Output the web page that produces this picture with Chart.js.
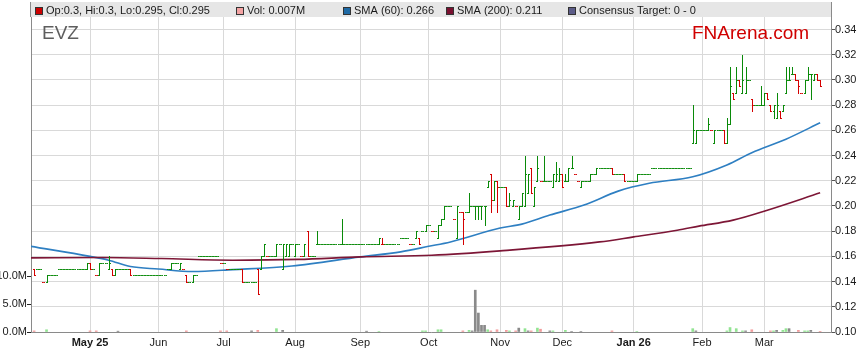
<!DOCTYPE html>
<html>
<head>
<meta charset="utf-8">
<title>EVZ</title>
<script src="https://cdn.jsdelivr.net/npm/chart.js@4.4.1/dist/chart.umd.min.js"></script>
<style>
  html, body { margin: 0; padding: 0; background: #fff; }
  canvas { display: block; }
</style>
</head>
<body>
<canvas id="evzChart" width="859" height="363"></canvas>
<script>
// One slot per weekday, slot 0 = Mon 7 Apr 2025
const opens = [
  0.15, 0.15, 0.15, 0.14, 0.14, 0.145, 0.145, 0.145, 0.15, 0.15,
  0.15, 0.15, 0.15, 0.15, 0.15, 0.15, 0.15, 0.15, 0.155, 0.15,
  0.145, 0.145, 0.155, 0.155, 0.15, 0.15, 0.145, 0.15, 0.15, 0.15,
  0.15, 0.15, 0.145, 0.145, 0.145, 0.145, 0.145, 0.145, 0.145, 0.145,
  0.145, 0.145, 0.145, 0.15, 0.15, 0.155, 0.155, 0.15, 0.15, 0.145,
  0.14, 0.14, 0.145, 0.16, 0.16, 0.16, 0.16, 0.16, 0.16, 0.16,
  0.155, 0.155, 0.15, 0.15, 0.15, 0.15, 0.15, 0.15, 0.14, 0.14,
  0.14, 0.14, 0.15, 0.15, 0.16, 0.16, 0.16, 0.16, 0.16, 0.17,
  0.15, 0.16, 0.16, 0.17, 0.16, 0.17, 0.16, 0.16, 0.18, 0.16,
  0.16, 0.17, 0.17, 0.17, 0.17, 0.17, 0.17, 0.17, 0.17, 0.17,
  0.17, 0.17, 0.17, 0.17, 0.17, 0.17, 0.17, 0.17, 0.17, 0.17,
  0.17, 0.17, 0.17, 0.17, 0.17, 0.17, 0.17, 0.17, 0.175, 0.175,
  0.175, 0.17, 0.17, 0.175, 0.175, 0.18, 0.18, 0.185, 0.18, 0.18,
  0.175, 0.185, 0.19, 0.20, 0.20, 0.19, 0.175, 0.195, 0.195, 0.195,
  0.195, 0.20, 0.20, 0.20, 0.20, 0.20, 0.215, 0.225, 0.205, 0.22,
  0.215, 0.215, 0.215, 0.20, 0.20, 0.20, 0.19, 0.20, 0.20, 0.21,
  0.23, 0.20, 0.22, 0.22, 0.22, 0.22, 0.22, 0.215, 0.22, 0.22,
  0.225, 0.22, 0.22, 0.23, 0.225, 0.22, 0.215, 0.22, 0.22, 0.22,
  0.225, 0.225, 0.23, 0.23, 0.23, 0.23, 0.23, 0.225, 0.225, 0.225,
  0.225, 0.22, 0.22, 0.22, 0.22, 0.225, 0.225, 0.225, 0.225, 0.23,
  0.23, 0.23, 0.23, 0.23, 0.23, 0.23, 0.23, 0.23, 0.23, 0.23,
  0.23, 0.23, 0.25, 0.25, 0.26, 0.26, 0.26, 0.26, 0.26, 0.25,
  0.26, 0.26, 0.26, 0.25, 0.265, 0.29, 0.29, 0.30, 0.29, 0.29,
  0.30, 0.285, 0.28, 0.28, 0.28, 0.28, 0.29, 0.28, 0.275, 0.27,
  0.275, 0.275, 0.29, 0.30, 0.305, 0.305, 0.30, 0.29, 0.29, 0.30,
  0.305, 0.30, 0.305, 0.30
];
const highs = [
  0.15, 0.15, 0.15, 0.14, 0.145, 0.145, 0.145, 0.145, 0.15, 0.15,
  0.15, 0.15, 0.15, 0.15, 0.15, 0.15, 0.15, 0.155, 0.155, 0.15,
  0.145, 0.155, 0.155, 0.155, 0.16, 0.15, 0.15, 0.15, 0.15, 0.15,
  0.15, 0.15, 0.145, 0.145, 0.145, 0.145, 0.145, 0.145, 0.145, 0.145,
  0.145, 0.145, 0.145, 0.15, 0.155, 0.155, 0.155, 0.155, 0.15, 0.145,
  0.14, 0.145, 0.145, 0.16, 0.16, 0.16, 0.16, 0.16, 0.16, 0.16,
  0.155, 0.155, 0.15, 0.15, 0.15, 0.15, 0.15, 0.15, 0.14, 0.14,
  0.14, 0.14, 0.15, 0.16, 0.17, 0.16, 0.16, 0.16, 0.17, 0.17,
  0.17, 0.17, 0.17, 0.17, 0.17, 0.17, 0.16, 0.17, 0.18, 0.16,
  0.16, 0.18, 0.17, 0.17, 0.17, 0.17, 0.17, 0.17, 0.17, 0.19,
  0.17, 0.17, 0.17, 0.17, 0.17, 0.17, 0.17, 0.17, 0.17, 0.17,
  0.17, 0.175, 0.175, 0.17, 0.17, 0.17, 0.17, 0.17, 0.175, 0.175,
  0.175, 0.17, 0.17, 0.18, 0.175, 0.18, 0.185, 0.185, 0.18, 0.18,
  0.185, 0.19, 0.20, 0.20, 0.20, 0.19, 0.20, 0.195, 0.195, 0.195,
  0.21, 0.20, 0.20, 0.20, 0.20, 0.20, 0.22, 0.225, 0.22, 0.22,
  0.215, 0.215, 0.215, 0.21, 0.205, 0.20, 0.20, 0.21, 0.24, 0.225,
  0.23, 0.215, 0.24, 0.22, 0.24, 0.22, 0.22, 0.225, 0.235, 0.23,
  0.225, 0.225, 0.23, 0.24, 0.225, 0.22, 0.22, 0.22, 0.22, 0.225,
  0.225, 0.23, 0.23, 0.23, 0.23, 0.23, 0.23, 0.225, 0.225, 0.225,
  0.225, 0.22, 0.22, 0.22, 0.225, 0.225, 0.225, 0.225, 0.225, 0.23,
  0.23, 0.23, 0.23, 0.23, 0.23, 0.23, 0.23, 0.23, 0.23, 0.23,
  0.23, 0.23, 0.28, 0.26, 0.26, 0.26, 0.26, 0.27, 0.26, 0.26,
  0.26, 0.26, 0.26, 0.27, 0.31, 0.29, 0.31, 0.30, 0.32, 0.31,
  0.30, 0.285, 0.28, 0.28, 0.295, 0.29, 0.29, 0.28, 0.28, 0.29,
  0.275, 0.28, 0.31, 0.31, 0.31, 0.305, 0.30, 0.29, 0.30, 0.31,
  0.305, 0.305, 0.305, 0.30
];
const lows = [
  0.145, 0.15, 0.15, 0.14, 0.14, 0.145, 0.145, 0.145, 0.15, 0.15,
  0.15, 0.15, 0.15, 0.15, 0.15, 0.15, 0.15, 0.15, 0.15, 0.15,
  0.145, 0.145, 0.155, 0.155, 0.15, 0.145, 0.145, 0.15, 0.15, 0.15,
  0.15, 0.145, 0.145, 0.145, 0.145, 0.145, 0.145, 0.145, 0.145, 0.145,
  0.145, 0.145, 0.145, 0.15, 0.15, 0.155, 0.155, 0.15, 0.15, 0.14,
  0.14, 0.14, 0.145, 0.16, 0.16, 0.16, 0.16, 0.16, 0.16, 0.16,
  0.155, 0.155, 0.15, 0.15, 0.15, 0.15, 0.15, 0.14, 0.14, 0.14,
  0.14, 0.14, 0.13, 0.15, 0.16, 0.16, 0.16, 0.16, 0.16, 0.17,
  0.15, 0.16, 0.16, 0.17, 0.16, 0.17, 0.16, 0.16, 0.16, 0.16,
  0.16, 0.17, 0.17, 0.17, 0.17, 0.17, 0.17, 0.17, 0.17, 0.17,
  0.17, 0.17, 0.17, 0.17, 0.17, 0.17, 0.17, 0.17, 0.17, 0.17,
  0.17, 0.17, 0.17, 0.17, 0.17, 0.17, 0.17, 0.17, 0.175, 0.175,
  0.175, 0.17, 0.17, 0.175, 0.17, 0.18, 0.18, 0.185, 0.18, 0.18,
  0.175, 0.185, 0.19, 0.20, 0.20, 0.19, 0.175, 0.195, 0.17, 0.195,
  0.195, 0.20, 0.19, 0.19, 0.19, 0.185, 0.215, 0.195, 0.205, 0.195,
  0.215, 0.215, 0.20, 0.20, 0.20, 0.20, 0.19, 0.20, 0.20, 0.21,
  0.21, 0.20, 0.22, 0.22, 0.22, 0.22, 0.22, 0.215, 0.22, 0.22,
  0.215, 0.22, 0.22, 0.23, 0.225, 0.22, 0.215, 0.22, 0.22, 0.22,
  0.225, 0.225, 0.23, 0.23, 0.23, 0.23, 0.225, 0.225, 0.225, 0.225,
  0.22, 0.22, 0.22, 0.22, 0.22, 0.225, 0.225, 0.225, 0.225, 0.23,
  0.23, 0.23, 0.23, 0.23, 0.23, 0.23, 0.23, 0.23, 0.23, 0.23,
  0.23, 0.23, 0.25, 0.25, 0.26, 0.26, 0.26, 0.26, 0.26, 0.25,
  0.26, 0.26, 0.25, 0.25, 0.265, 0.285, 0.29, 0.295, 0.29, 0.29,
  0.30, 0.275, 0.28, 0.28, 0.28, 0.28, 0.285, 0.275, 0.27, 0.27,
  0.27, 0.275, 0.29, 0.30, 0.305, 0.30, 0.29, 0.29, 0.29, 0.30,
  0.285, 0.30, 0.30, 0.295
];
const closes = [
  0.145, 0.15, 0.15, 0.14, 0.145, 0.145, 0.145, 0.145, 0.15, 0.15,
  0.15, 0.15, 0.15, 0.15, 0.15, 0.15, 0.15, 0.155, 0.15, 0.15,
  0.145, 0.155, 0.155, 0.155, 0.155, 0.145, 0.15, 0.15, 0.15, 0.15,
  0.15, 0.145, 0.145, 0.145, 0.145, 0.145, 0.145, 0.145, 0.145, 0.145,
  0.145, 0.145, 0.145, 0.15, 0.155, 0.155, 0.155, 0.155, 0.15, 0.14,
  0.14, 0.145, 0.145, 0.16, 0.16, 0.16, 0.16, 0.16, 0.16, 0.16,
  0.155, 0.155, 0.15, 0.15, 0.15, 0.15, 0.15, 0.14, 0.14, 0.14,
  0.14, 0.14, 0.13, 0.16, 0.17, 0.16, 0.16, 0.16, 0.17, 0.17,
  0.17, 0.17, 0.17, 0.17, 0.17, 0.17, 0.16, 0.17, 0.16, 0.16,
  0.16, 0.17, 0.17, 0.17, 0.17, 0.17, 0.17, 0.17, 0.17, 0.17,
  0.17, 0.17, 0.17, 0.17, 0.17, 0.17, 0.17, 0.17, 0.17, 0.17,
  0.17, 0.175, 0.17, 0.17, 0.17, 0.17, 0.17, 0.17, 0.175, 0.175,
  0.175, 0.17, 0.17, 0.18, 0.17, 0.18, 0.185, 0.185, 0.18, 0.18,
  0.185, 0.19, 0.20, 0.20, 0.20, 0.19, 0.20, 0.195, 0.19, 0.195,
  0.20, 0.20, 0.20, 0.20, 0.20, 0.20, 0.22, 0.205, 0.22, 0.215,
  0.215, 0.215, 0.20, 0.205, 0.205, 0.20, 0.20, 0.21, 0.225, 0.225,
  0.21, 0.215, 0.23, 0.22, 0.22, 0.22, 0.22, 0.225, 0.225, 0.225,
  0.215, 0.22, 0.23, 0.23, 0.225, 0.22, 0.22, 0.22, 0.22, 0.225,
  0.225, 0.23, 0.23, 0.23, 0.23, 0.23, 0.225, 0.225, 0.225, 0.225,
  0.22, 0.22, 0.22, 0.22, 0.225, 0.225, 0.225, 0.225, 0.225, 0.23,
  0.23, 0.23, 0.23, 0.23, 0.23, 0.23, 0.23, 0.23, 0.23, 0.23,
  0.23, 0.23, 0.26, 0.26, 0.26, 0.26, 0.26, 0.265, 0.26, 0.26,
  0.26, 0.26, 0.25, 0.265, 0.295, 0.285, 0.30, 0.295, 0.30, 0.30,
  0.30, 0.28, 0.28, 0.28, 0.28, 0.29, 0.285, 0.275, 0.28, 0.28,
  0.27, 0.28, 0.30, 0.30, 0.305, 0.30, 0.295, 0.29, 0.30, 0.305,
  0.305, 0.305, 0.30, 0.295
];

// volume (millions) only on the days where a bar shows
const volumeDays = [0, 4, 18, 20, 27, 49, 60, 62, 70, 72, 78, 80, 107, 111, 125, 126, 130, 131,
  138, 140, 141, 142, 143, 144, 145, 146, 147, 149, 152, 153, 155, 156, 158, 159, 160, 162, 163,
  166, 167, 171, 173, 176, 186, 194, 212, 213, 223, 224, 226, 228, 229, 231, 237, 238, 239, 241,
  242, 243, 246, 248, 249, 250, 253];
const volumeM = [0.2, 0.4, 0.2, 0.2, 0.15, 0.2, 0.2, 0.2, 0.2, 0.3, 0.6, 0.3, 0.15, 0.1, 0.2, 0.2, 0.4, 0.4,
  0.2, 0.3, 0.2, 7.5, 3.4, 1.2, 1.2, 0.4, 0.2, 0.4, 0.3, 0.2, 0.2, 0.7, 0.6, 0.2, 0.2, 0.7, 0.5,
  0.2, 0.2, 0.3, 0.1, 0.1, 0.2, 0.1, 0.6, 0.2, 0.2, 0.8, 0.6, 0.2, 0.2, 0.4, 0.2, 0.2, 0.3, 0.3,
  0.6, 0.6, 0.3, 0.2, 0.2, 0.3, 0.007];

const sma60Days = [-1, 18, 24, 31, 40, 51, 64, 83, 105, 118, 127, 134, 150, 157, 166, 177, 188, 198, 212, 223, 231, 242, 253];
const sma60 = [0.168, 0.160, 0.157, 0.152, 0.150, 0.148, 0.1495, 0.1524, 0.1596, 0.1636, 0.168, 0.1715,
  0.1825, 0.1856, 0.1928, 0.2007, 0.2118, 0.218, 0.2232, 0.2326, 0.2423, 0.253, 0.266];
const sma200Days = [-1, 22, 41, 64, 85, 105, 128, 150, 182, 193, 207, 214, 225, 236, 253];
const sma200 = [0.1588, 0.1591, 0.1583, 0.157, 0.1576, 0.1596, 0.1609, 0.1644, 0.1715, 0.1755,
  0.1808, 0.184, 0.1888, 0.1967, 0.2105];

const monthTicks = [18, 40, 61, 84, 105, 127, 150, 170, 193, 215, 235];
const monthLabels = ['May 25', 'Jun', 'Jul', 'Aug', 'Sep', 'Oct', 'Nov', 'Dec', 'Jan 26', 'Feb', 'Mar'];
const priceTicks = [0.10, 0.12, 0.14, 0.16, 0.18, 0.20, 0.22, 0.24, 0.26, 0.28, 0.30, 0.32, 0.34];
const volumeTicksM = [0, 5, 10];

const headerLabels = ['Op:0.3, Hi:0.3, Lo:0.295, Cl:0.295', 'Vol: 0.007M', 'SMA (60): 0.266',
  'SMA (200): 0.211', 'Consensus Target: 0 - 0'];

const UP = '#098a09';
const DOWN = '#d40000';
const FONT = "'Liberation Sans', Arial, sans-serif";

function prevClose(i) {
  return i > 0 ? closes[i - 1] : opens[i];
}

function volColour(d) {
  if (closes[d] > prevClose(d)) return '#92e492';
  if (closes[d] < prevClose(d)) return '#f29c9c';
  return '#8a8a8a';
}

// open / high / low / close bars
const ohlcPlugin = {
  id: 'ohlc',
  afterDatasetsDraw(chart) {
    const { ctx, chartArea, scales: { x, y } } = chart;
    const half = (x.getPixelForValue(1) - x.getPixelForValue(0)) / 2 - 0.1;
    ctx.save();
    ctx.beginPath();
    ctx.rect(chartArea.left, chartArea.top, chartArea.width, chartArea.height);
    ctx.clip();
    ctx.lineWidth = 1;
    for (let i = 0; i < closes.length; i++) {
      const px = Math.round(x.getPixelForValue(i)) + 0.5;
      const yo = Math.round(y.getPixelForValue(opens[i])) + 0.5;
      const yh = Math.round(y.getPixelForValue(highs[i]));
      const yl = Math.round(y.getPixelForValue(lows[i])) + 1;
      const yc = Math.round(y.getPixelForValue(closes[i])) + 0.5;
      ctx.strokeStyle = closes[i] >= prevClose(i) ? UP : DOWN;
      ctx.beginPath();
      if (yl - yh > 1) {
        ctx.moveTo(px, yh);
        ctx.lineTo(px, yl);
      }
      ctx.moveTo(px - half, yo);
      ctx.lineTo(px, yo);
      ctx.moveTo(px, yc);
      ctx.lineTo(px + half, yc);
      ctx.stroke();
    }
    ctx.restore();
  }
};

// header strip and watermark texts
const framePlugin = {
  id: 'frame',
  beforeDatasetsDraw(chart) {
    const { ctx } = chart;
    ctx.save();
    ctx.font = '19px ' + FONT;
    ctx.textBaseline = 'alphabetic';
    ctx.fillStyle = '#5e5e5e';
    ctx.fillText('EVZ', 42, 39);
    ctx.fillStyle = '#d00000';
    ctx.fillText('FNArena.com', 692, 39);
    ctx.restore();
  },
  afterDraw(chart) {
    const { ctx, chartArea } = chart;
    const swatches = ['#cc0000', '#f4a3a3', '#1f6aa5', '#7a1030', '#5c5c88'];
    const xs = [35, 236, 343, 446, 568];
    ctx.save();
    ctx.fillStyle = '#e6e6e6';
    ctx.fillRect(chartArea.left, 2, chartArea.width, chartArea.top - 2);
    ctx.strokeStyle = '#8a8a8a';
    ctx.lineWidth = 1;
    ctx.beginPath();
    ctx.moveTo(chartArea.left - 0.5, 2);
    ctx.lineTo(chartArea.left - 0.5, chartArea.top);
    ctx.moveTo(chartArea.right + 0.5, 2);
    ctx.lineTo(chartArea.right + 0.5, chartArea.top);
    ctx.stroke();
    ctx.font = '11px ' + FONT;
    ctx.textBaseline = 'middle';
    headerLabels.forEach((label, i) => {
      ctx.fillStyle = swatches[i];
      ctx.fillRect(xs[i], 7, 8, 8);
      ctx.strokeStyle = '#333';
      ctx.strokeRect(xs[i] + 0.5, 7.5, 7, 7);
      ctx.fillStyle = '#1a1a1a';
      ctx.fillText(label, xs[i] + 11, 11);
    });
    ctx.restore();
  }
};

const isYearLabel = (v) => {
  const idx = monthTicks.indexOf(v);
  return idx >= 0 && monthLabels[idx].includes(' ');
};

const ctx = document.getElementById('evzChart').getContext('2d');
new Chart(ctx, {
  type: 'bar',
  data: {
    datasets: [
      {
        type: 'line',
        label: 'SMA (200)',
        data: sma200Days.map((d, i) => ({ x: d, y: sma200[i] })),
        borderColor: '#7d1636',
        borderWidth: 1.6,
        pointRadius: 0,
        cubicInterpolationMode: 'monotone',
        xAxisID: 'x',
        yAxisID: 'y'
      },
      {
        type: 'line',
        label: 'SMA (60)',
        data: sma60Days.map((d, i) => ({ x: d, y: sma60[i] })),
        borderColor: '#2e7fc2',
        borderWidth: 1.6,
        pointRadius: 0,
        cubicInterpolationMode: 'monotone',
        xAxisID: 'x',
        yAxisID: 'y'
      },
      {
        type: 'bar',
        label: 'Vol',
        data: volumeDays.map((d, i) => ({ x: d, y: volumeM[i] * 1e6 })),
        backgroundColor: volumeDays.map(volColour),
        borderWidth: 0,
        barThickness: 2,
        xAxisID: 'x',
        yAxisID: 'yv'
      }
    ]
  },
  options: {
    responsive: false,
    animation: false,
    devicePixelRatio: 1,
    layout: { padding: { top: 17 } },
    plugins: {
      legend: { display: false },
      tooltip: { enabled: false }
    },
    scales: {
      x: {
        type: 'linear',
        min: -1,
        max: 256.5,
        offset: false,
        afterBuildTicks: (scale) => { scale.ticks = monthTicks.map(v => ({ value: v })); },
        afterFit: (scale) => { scale.height = 31; },
        grid: { color: '#d9d9d9', drawTicks: false, offset: false },
        border: { color: '#8a8a8a' },
        ticks: {
          autoSkip: false,
          maxRotation: 0,
          padding: 4,
          color: '#1a1a1a',
          font: (c) => ({ family: FONT, size: 11, weight: c.tick && isYearLabel(c.tick.value) ? 'bold' : 'normal' }),
          callback: (v) => monthLabels[monthTicks.indexOf(v)]
        }
      },
      y: {
        type: 'linear',
        position: 'right',
        min: 0.10,
        max: 0.35,
        afterBuildTicks: (scale) => { scale.ticks = priceTicks.map(v => ({ value: v })); },
        afterFit: (scale) => { scale.width = 28; },
        grid: { color: '#d9d9d9', tickLength: 4, tickColor: '#555' },
        border: { color: '#8a8a8a' },
        ticks: {
          padding: 0,
          color: '#1a1a1a',
          font: { family: FONT, size: 11 },
          callback: (v) => v.toFixed(2)
        }
      },
      yv: {
        type: 'linear',
        position: 'left',
        min: 0,
        max: 56.5e6,
        afterBuildTicks: (scale) => { scale.ticks = volumeTicksM.map(v => ({ value: v * 1e6 })); },
        afterFit: (scale) => { scale.width = 31; },
        grid: { drawOnChartArea: false, tickLength: 4, tickColor: '#222' },
        border: { color: '#8a8a8a' },
        ticks: {
          padding: 0,
          color: '#1a1a1a',
          font: { family: FONT, size: 11 },
          callback: (v) => (v / 1e6).toFixed(1) + 'M'
        }
      }
    }
  },
  plugins: [framePlugin, ohlcPlugin]
});
</script>
</body>
</html>
